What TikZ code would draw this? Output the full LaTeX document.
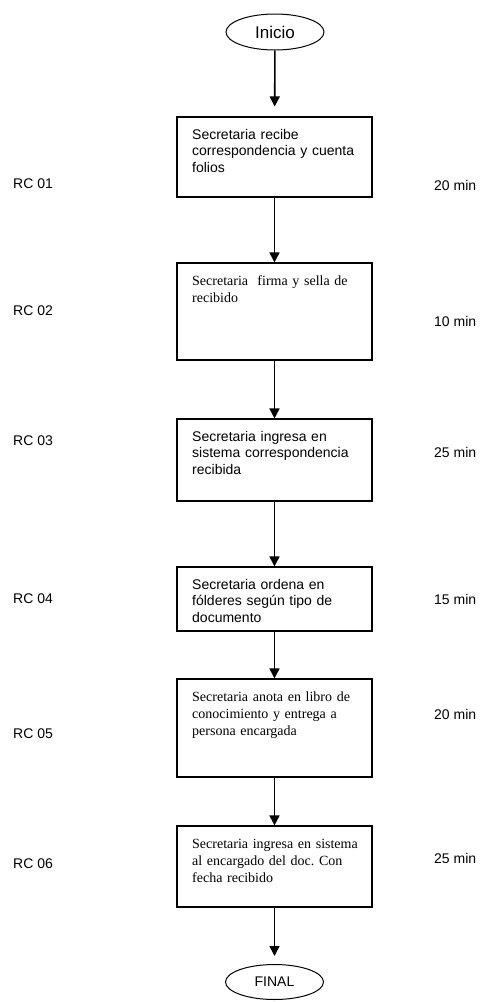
\documentclass[tikz,border=0pt]{standalone}
\usepackage{fontspec}
\setmainfont{Liberation Serif}
\newfontfamily\arialf{Liberation Sans}
\usetikzlibrary{arrows.meta,shapes.geometric}
\frenchspacing
\begin{document}
\begin{tikzpicture}[x=1pt,y=-1pt,
  sans/.style={font=\arialf\fontsize{14}{16.6}\selectfont},
  serif/.style={font=\fontsize{14}{17}\selectfont},
  stepbox/.style={draw,line width=1.1pt,minimum width=195pt,inner sep=0pt},
  term/.style={draw,ellipse,line width=1pt,minimum width=98pt,minimum height=36pt,inner sep=0pt,sans},
  txt/.style={anchor=base west,inner sep=0pt,text width=178pt,align=left},
  lab/.style={anchor=west,inner sep=0pt,sans},
  arr/.style={-{Triangle[length=10pt,width=10pt]},line width=1.6pt}]
\useasboundingbox (0,0) rectangle (480,1002);

% terminals
\node[term,font=\arialf\fontsize{17}{20}\selectfont] (inicio) at (275,32) {Inicio};
\node[term,minimum height=35pt] (final) at (274.5,982) {FINAL};

% process boxes
\node[stepbox,minimum height=80pt] (b1) at (274.5,157) {};
\node[stepbox,minimum height=97pt] (b2) at (274.5,311.5) {};
\node[stepbox,minimum height=82pt] (b3) at (274.5,460) {};
\node[stepbox,minimum height=64pt] (b4) at (274.5,599) {};
\node[stepbox,minimum height=98pt] (b5) at (274.5,728) {};
\node[stepbox,minimum height=81pt] (b6) at (274.5,866.5) {};

% box texts
\node[txt,sans]  (t1) at (192,139) {Secretaria recibe\\correspondencia y cuenta\\folios};
\node[txt,serif] (t2) at (192,285) {Secretaria\ \ firma y sella de\\recibido};
\node[txt,sans]  (t3) at (192,441) {Secretaria ingresa en\\sistema correspondencia\\recibida};
\node[txt,sans]  (t4) at (192,589) {Secretaria ordena en\\fólderes según tipo de\\documento};
\node[txt,serif] (t5) at (192,701) {Secretaria anota en libro de\\conocimiento y entrega a\\persona encargada};
\node[txt,serif] (t6) at (192,848) {Secretaria ingresa en sistema\\al encargado del doc. Con\\fecha recibido};

% step codes
\node[lab] (rc1) at (13,184) {RC 01};
\node[lab] (rc2) at (13,311) {RC 02};
\node[lab] (rc3) at (13,441) {RC 03};
\node[lab] (rc4) at (13,599) {RC 04};
\node[lab] (rc5) at (13,734) {RC 05};
\node[lab] (rc6) at (13,864) {RC 06};

% durations
\node[lab] (m1) at (434,185) {20 min};
\node[lab] (m2) at (434,321) {10 min};
\node[lab] (m3) at (434,452) {25 min};
\node[lab] (m4) at (434,599) {15 min};
\node[lab] (m5) at (434,714) {20 min};
\node[lab] (m6) at (434,858) {25 min};

% flow
\draw[arr,shorten >=10pt] (inicio) -- (b1);
\draw[arr] (b1) -- (b2);
\draw[arr] (b2) -- (b3);
\draw[arr] (b3) -- (b4);
\draw[arr] (b4) -- (b5);
\draw[arr] (b5) -- (b6);
\draw[arr,shorten >=8pt] (b6) -- (final);
\end{tikzpicture}
\end{document}
